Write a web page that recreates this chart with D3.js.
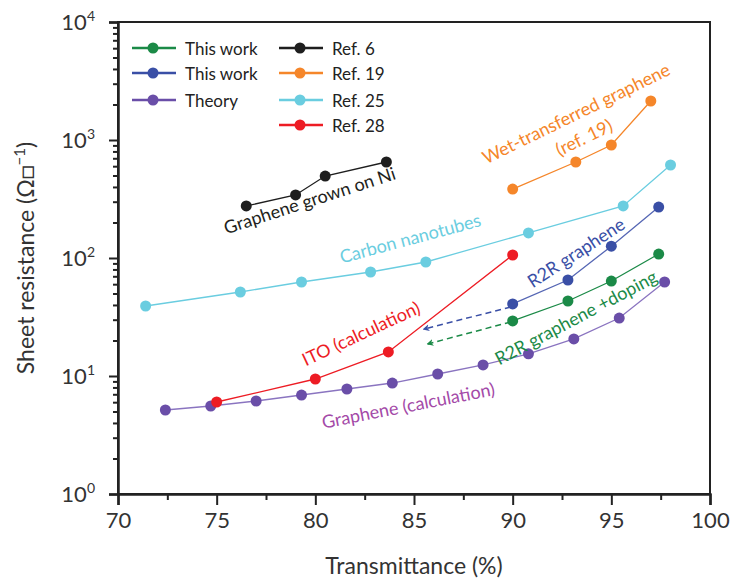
<!DOCTYPE html>
<html>
<head>
<meta charset="utf-8">
<script src="https://cdn.jsdelivr.net/npm/d3@7"></script>
<style>
  body { margin: 0; background: #fff; }
  svg text { font-family: Lato, "Open Sans", sans-serif; }
</style>
</head>
<body>
<div id="chart"></div>
<script>
// values: transmittance (%) and sheet resistance (ohm/sq)
const greenT = [90, 92.8, 95, 97.4],
    greenR = [29.3, 43.2, 63.8, 108];
const blueT = [90, 92.8, 95, 97.4],
    blueR = [40.8, 65.1, 126, 270];
const theoryT = [72.4, 74.7, 77, 79.3, 81.6, 83.9, 86.2, 88.5, 90.8, 93.1, 95.4, 97.7],
    theoryR = [5.15, 5.57, 6.14, 6.9, 7.76, 8.72, 10.4, 12.4, 15.4, 20.6, 31, 62.6];
const ref6T = [76.5, 79, 80.5, 83.6],
    ref6R = [276, 342, 495, 651];
const ref19T = [90, 93.2, 95, 97],
    ref19R = [384, 651, 907, 2140];
const ref25T = [71.4, 76.2, 79.3, 82.8, 85.6, 90.8, 95.6, 98],
    ref25R = [39.2, 51.5, 62.6, 76.1, 92.5, 163, 276, 614];
const ref28T = [75, 80, 83.7, 90],
    ref28R = [6.02, 9.43, 16, 106];

const xTicks = [70, 75, 80, 85, 90, 95, 100];
const yTicks = [1, 10, 100, 1000, 10000];

const series = [
    {name: "This work", t: greenT, r: greenR, color: "#1b8a47", line: "#1b8a47"},
    {name: "This work", t: blueT, r: blueR, color: "#3a4fa6", line: "#5566b4"},
    {name: "Theory", t: theoryT, r: theoryR, color: "#6a4ea8", line: "#8a74c0"},
    {name: "Ref. 6", t: ref6T, r: ref6R, color: "#1e1e1e", line: "#1e1e1e"},
    {name: "Ref. 19", t: ref19T, r: ref19R, color: "#f5862a", line: "#f5862a"},
    {name: "Ref. 25", t: ref25T, r: ref25R, color: "#6acde0", line: "#6acde0"},
    {name: "Ref. 28", t: ref28T, r: ref28R, color: "#ed1c24", line: "#ed1c24"}
];

// text labels beside the curves: [text, T, R, angle, color]
const notes = [
    ["Graphene grown on Ni", 79.7, 310, -18, "#231f20"],
    ["Carbon nanotubes", 84.8, 148, -15, "#6acde0"],
    ["Wet-transferred graphene", 93.2, 1694, -26, "#f5862a"],
    ["(ref. 19)", 93.6, 1060, -26, "#f5862a"],
    ["R2R graphene", 93.2, 112, -33, "#3a4fa6"],
    ["R2R graphene +doping", 93.2, 31.6, -28, "#1b8a47"],
    ["ITO (calculation)", 82.3, 23.1, -25, "#ed1c24"],
    ["Graphene (calculation)", 84.7, 5.68, -11, "#a44aa8"]
];

// dashed arrows: [T0, R0, T1, R1, color]
const arrows = [
    [89.9, 38.4, 85.5, 25.0, "#3a4fa6"],
    [89.9, 28.7, 85.7, 18.7, "#1b8a47"]
];

const margin = {top: 22, right: 22, bottom: 86, left: 118},
    width = 732 - margin.left - margin.right,
    height = 580 - margin.top - margin.bottom;

const svg = d3.select("#chart")
    .append("svg")
    .attr("width", 732)
    .attr("height", 580);

const defs = svg.append("defs");
arrows.forEach(function (a, i) {
    defs.append("marker")
        .attr("id", "arr" + i)
        .attr("viewBox", "0 0 10 10")
        .attr("refX", 8).attr("refY", 5)
        .attr("markerWidth", 7).attr("markerHeight", 7)
        .attr("markerUnits", "userSpaceOnUse")
        .attr("orient", "auto")
        .append("path")
        .attr("d", "M0,0 L10,5 L0,10 L3,5 Z")
        .attr("fill", a[4]);
});

const g = svg.append("g")
    .attr("transform", "translate(" + margin.left + "," + margin.top + ")");

const x = d3.scaleLinear().domain([70, 100]).range([0, width]);
const y = d3.scaleLog().domain([1, 10000]).range([height, 0]);

// frame
g.append("rect")
    .attr("width", width).attr("height", height)
    .attr("fill", "none").attr("stroke", "#222").attr("stroke-width", 2);

// minor ticks
let minorY = [];
for (let e = 0; e < 4; e++) for (let k = 2; k < 10; k++) minorY.push(k * Math.pow(10, e));
g.append("g")
    .call(d3.axisLeft(y).tickValues(minorY).tickSize(5).tickFormat(""))
    .call(s => s.select(".domain").remove())
    .selectAll("line").attr("stroke", "#222").attr("stroke-width", 2);

g.append("g")
    .attr("transform", "translate(0," + height + ")")
    .call(d3.axisBottom(x).tickValues([72.5, 77.5, 82.5, 87.5, 92.5, 97.5]).tickSize(6).tickFormat(""))
    .call(s => s.select(".domain").remove())
    .selectAll("line").attr("stroke", "#222").attr("stroke-width", 2);

// major axes
const yAxis = g.append("g")
    .call(d3.axisLeft(y).tickValues(yTicks).tickSize(9).tickPadding(8).tickFormat(""));
yAxis.select(".domain").attr("stroke", "#222").attr("stroke-width", 2.5);
yAxis.selectAll("line").attr("stroke", "#222").attr("stroke-width", 2);
yAxis.selectAll(".tick text")
    .attr("font-size", 22).attr("fill", "#333").attr("dx", -6)
    .each(function (d) {
        const t = d3.select(this);
        t.append("tspan").text("10");
        t.append("tspan").attr("dy", -9).attr("font-size", 14).text(Math.round(Math.log10(d)));
    });

const xAxis = g.append("g")
    .attr("transform", "translate(0," + height + ")")
    .call(d3.axisBottom(x).tickValues(xTicks).tickSize(11).tickPadding(7));
xAxis.select(".domain").attr("stroke", "#222").attr("stroke-width", 2.5);
xAxis.selectAll("line").attr("stroke", "#222").attr("stroke-width", 2);
xAxis.selectAll("text").attr("font-size", 22).attr("fill", "#333");

// axis titles
svg.append("text")
    .attr("x", margin.left + width / 2).attr("y", 574)
    .attr("text-anchor", "middle").attr("font-size", 23).attr("fill", "#333")
    .text("Transmittance (%)");

const yt = svg.append("text")
    .attr("transform", "translate(34," + (margin.top + height / 2) + ") rotate(-90)")
    .attr("text-anchor", "middle").attr("font-size", 23).attr("fill", "#333");
yt.append("tspan").text("Sheet resistance (Ω□");
yt.append("tspan").attr("dy", -9).attr("font-size", 15).text("−1");
yt.append("tspan").attr("dy", 9).text(")");

// arrows
arrows.forEach(function (a, i) {
    g.append("line")
        .attr("x1", x(a[0])).attr("y1", y(a[1]))
        .attr("x2", x(a[2])).attr("y2", y(a[3]))
        .attr("stroke", a[4]).attr("stroke-width", 1.5)
        .attr("stroke-dasharray", "6,4")
        .attr("marker-end", "url(#arr" + i + ")");
});

// series
const line = d3.line().x(d => x(d[0])).y(d => y(d[1]));
series.forEach(function (s) {
    const pts = s.t.map((t, i) => [t, s.r[i]]);
    g.append("path")
        .datum(pts)
        .attr("d", line)
        .attr("fill", "none").attr("stroke", s.line).attr("stroke-width", 1.3);
    g.selectAll(null)
        .data(pts)
        .enter().append("circle")
        .attr("cx", d => x(d[0])).attr("cy", d => y(d[1]))
        .attr("r", 5.5).attr("fill", s.color);
});

// annotations
notes.forEach(function (n) {
    g.append("text")
        .attr("transform", "translate(" + x(n[1]) + "," + y(n[2]) + ") rotate(" + n[3] + ")")
        .attr("text-anchor", "middle").attr("dominant-baseline", "central")
        .attr("font-size", 18).attr("fill", n[4])
        .text(n[0]);
});

// legend
const legendCols = [
    {x: 14, rows: [0, 1, 2]},
    {x: 161, rows: [3, 4, 5, 6]}
];
const rowY = [26, 51, 78, 103];
legendCols.forEach(function (c) {
    c.rows.forEach(function (si, j) {
        const s = series[si];
        const lg = g.append("g").attr("transform", "translate(" + c.x + "," + rowY[j] + ")");
        lg.append("line").attr("x1", 0).attr("x2", 44)
            .attr("stroke", s.color).attr("stroke-width", 2.5);
        lg.append("circle").attr("cx", 21).attr("r", 5.5).attr("fill", s.color);
        lg.append("text").attr("x", 53).attr("dominant-baseline", "central")
            .attr("font-size", 17).attr("fill", "#222").text(s.name);
    });
});
</script>
</body>
</html>
